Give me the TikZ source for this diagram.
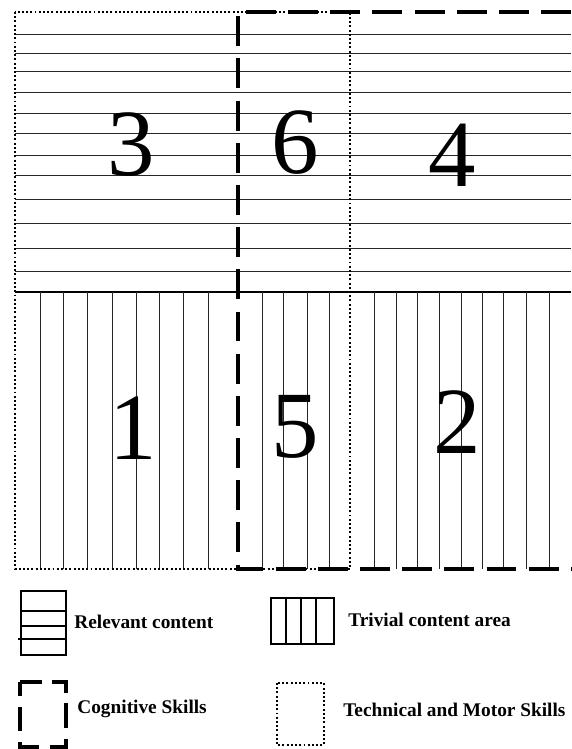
\documentclass[tikz,border=0pt]{standalone}
\usepackage{fontspec}
\setmainfont{Liberation Serif}
\begin{document}
\begin{tikzpicture}[x=0.02cm,y=-0.02cm]
	\tikzset{
		hatch/.style={line width=0.55pt, black!85},
		border/.style={line width=1pt},
		cogline/.style={line width=1.8pt, dash pattern=on 17pt off 7pt},
		techline/.style={line width=1.6pt, dash pattern=on 1.1pt off 1.3pt},
		digit/.style={font=\fontsize{54}{60}\selectfont, inner sep=0pt},
		legtext/.style={font=\bfseries\fontsize{11}{13}\selectfont, anchor=west, inner sep=0pt},
	}
	\useasboundingbox (0,0) rectangle (571,749);
	% relevant content (horizontal lines)
	\foreach \y in {34,53,71,92,113,133,155,175,199,223,248,271} {
			\draw[hatch] (15,\y) -- (571,\y);
		}
	\draw[border] (15,292) -- (571,292);
	% trivial content (vertical lines)
	\foreach \x in {40,63,87,112,136,159,183,208,262,283,307,329,374,396,417,439,461,482,503,526,549}
		{
			\draw[hatch] (\x,292) -- (\x,569);
		}
	% skill areas
	\draw[techline] (15,12) rectangle (350,569);
	\draw[cogline] (571,12) -- (238,12) -- (238,569) -- (571,569);
	% area numbers
	\node[digit] (n3) at (131,145) {3};
	\node[digit] (n6) at (295,143) {6};
	\node[digit] (n4) at (452,155) {4};
	\node[digit] (n1) at (133,428) {1};
	\node[digit] (n5) at (295,427) {5};
	\node[digit] (n2) at (457,422) {2};
	% legend
	\draw[line width=0.8pt] (21,591) rectangle (66,655);
	\foreach \y in {611,626} {
			\draw[line width=0.8pt] (21,\y) -- (66,\y);
		}
	\draw[line width=0.8pt] (18,639) -- (66,639);
	\node[legtext] (relevant) at (74,622) {Relevant content};
	\draw[line width=0.8pt] (271,598) rectangle (334,644);
	\foreach \x in {286,301,316} {
			\draw[line width=0.8pt] (\x,598) -- (\x,644);
		}
	\node[legtext] (trivial) at (348,620) {Trivial content area};
	\draw[line width=1.8pt, dash pattern=on 14pt off 6pt, dash phase=6pt] (20,682) rectangle (66,747);
	\node[legtext] (cognitive) at (77,709) {Cognitive Skills};
	\draw[techline] (277,683) rectangle (324,745);
	\node[legtext] (technical) at (343,710) {Technical and Motor Skills};
\end{tikzpicture}
\end{document}
